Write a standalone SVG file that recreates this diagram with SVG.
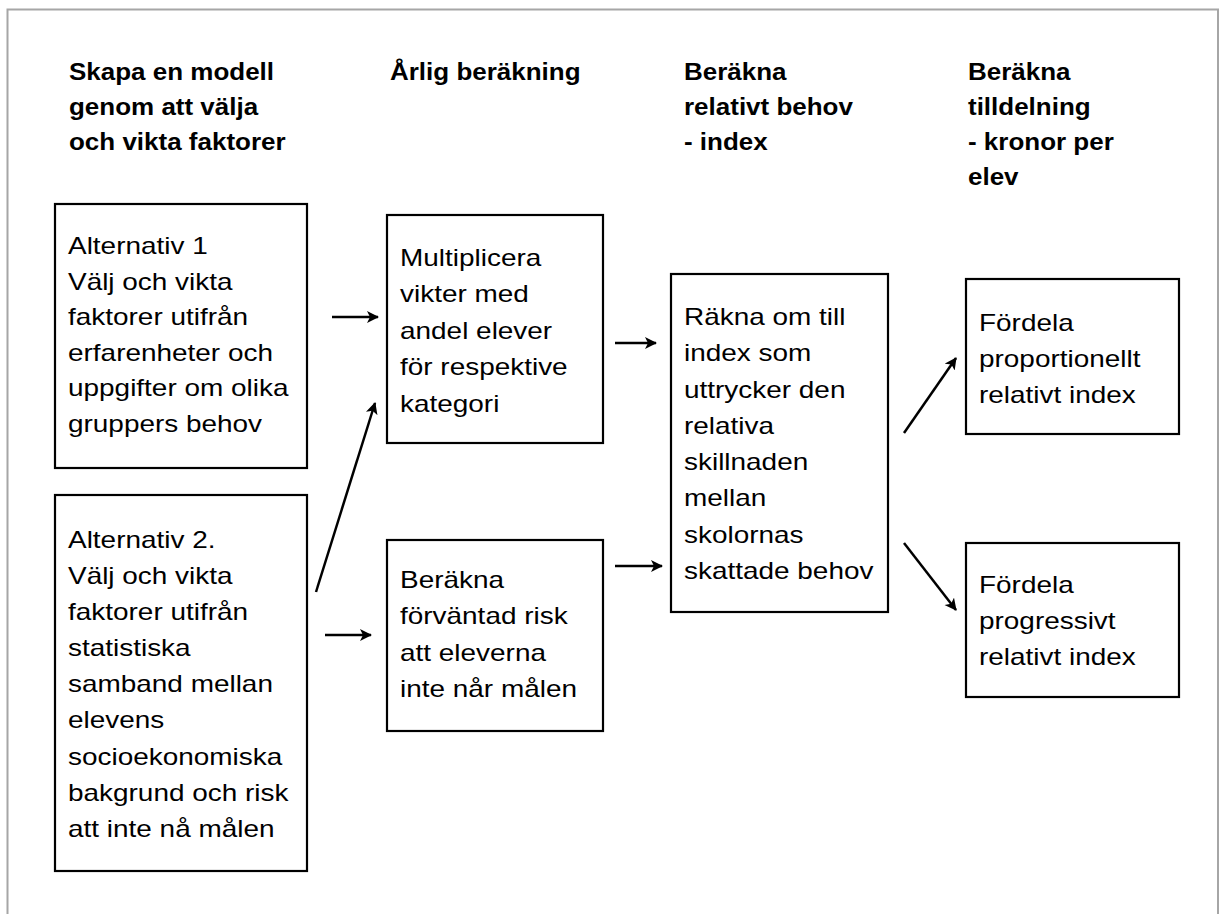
<svg xmlns="http://www.w3.org/2000/svg" width="1225" height="914" viewBox="0 0 1225 914">
<style>
  .box{fill:#fff;stroke:#000;stroke-width:2.2}
  .t{font-family:"Liberation Sans",Arial,sans-serif;font-size:23px;fill:#000}
  .h{font-family:"Liberation Sans",Arial,sans-serif;font-size:23px;font-weight:bold;fill:#000}
  .c{stroke:#000;stroke-width:2.5;fill:none;marker-end:url(#ah)}
</style>
<defs>
  <marker id="ah" markerUnits="userSpaceOnUse" markerWidth="14" markerHeight="14" refX="11" refY="6" orient="auto">
    <path d="M0,0 L12,6 L0,12 L3,6 Z" fill="#000"/>
  </marker>
</defs>
<rect x="0" y="0" width="1225" height="914" fill="#fff"/>
<path d="M7.5,914 V9.5 H1218 V914" fill="none" stroke="#a6a6a6" stroke-width="2"/>

<g id="headings">
  <text class="h" transform="matrix(1.13 0 0 1 69 80)"><tspan x="0" y="0">Skapa en modell</tspan><tspan x="0" y="35">genom att välja</tspan><tspan x="0" y="70">och vikta faktorer</tspan></text>
  <text class="h" transform="matrix(1.13 0 0 1 390 80)"><tspan x="0" y="0">Årlig beräkning</tspan></text>
  <text class="h" transform="matrix(1.13 0 0 1 684 80)"><tspan x="0" y="0">Beräkna</tspan><tspan x="0" y="35">relativt behov</tspan><tspan x="0" y="70">- index</tspan></text>
  <text class="h" transform="matrix(1.13 0 0 1 968 80)"><tspan x="0" y="0">Beräkna</tspan><tspan x="0" y="35">tilldelning</tspan><tspan x="0" y="70">- kronor per</tspan><tspan x="0" y="105">elev</tspan></text>
</g>

<g id="alt1">
  <rect class="box" x="55" y="204" width="252" height="264"/>
  <text class="t" transform="matrix(1.215 0 0 1 68 254)"><tspan x="0" y="0">Alternativ 1</tspan><tspan x="0" y="35.6">Välj och vikta</tspan><tspan x="0" y="71.2">faktorer utifrån</tspan><tspan x="0" y="106.8">erfarenheter och</tspan><tspan x="0" y="142.4">uppgifter om olika</tspan><tspan x="0" y="178">gruppers behov</tspan></text>
</g>

<g id="alt2">
  <rect class="box" x="55" y="495" width="252" height="376"/>
  <text class="t" transform="matrix(1.215 0 0 1 68 548)"><tspan x="0" y="0">Alternativ 2.</tspan><tspan x="0" y="36.1">Välj och vikta</tspan><tspan x="0" y="72.2">faktorer utifrån</tspan><tspan x="0" y="108.3">statistiska</tspan><tspan x="0" y="144.4">samband mellan</tspan><tspan x="0" y="180.5">elevens</tspan><tspan x="0" y="216.6">socioekonomiska</tspan><tspan x="0" y="252.7">bakgrund och risk</tspan><tspan x="0" y="288.8">att inte nå målen</tspan></text>
</g>

<g id="multiplicera">
  <rect class="box" x="387" y="215" width="216" height="228"/>
  <text class="t" transform="matrix(1.215 0 0 1 400 266)"><tspan x="0" y="0">Multiplicera</tspan><tspan x="0" y="36.4">vikter med</tspan><tspan x="0" y="72.8">andel elever</tspan><tspan x="0" y="109.2">för respektive</tspan><tspan x="0" y="145.6">kategori</tspan></text>
</g>

<g id="berakna-risk">
  <rect class="box" x="387" y="540" width="216" height="191"/>
  <text class="t" transform="matrix(1.215 0 0 1 400 588)"><tspan x="0" y="0">Beräkna</tspan><tspan x="0" y="36.5">förväntad risk</tspan><tspan x="0" y="73">att eleverna</tspan><tspan x="0" y="109.5">inte når målen</tspan></text>
</g>

<g id="rakna-index">
  <rect class="box" x="671" y="274" width="217" height="338"/>
  <text class="t" transform="matrix(1.215 0 0 1 684 325)"><tspan x="0" y="0">Räkna om till</tspan><tspan x="0" y="36.3">index som</tspan><tspan x="0" y="72.6">uttrycker den</tspan><tspan x="0" y="108.9">relativa</tspan><tspan x="0" y="145.2">skillnaden</tspan><tspan x="0" y="181.5">mellan</tspan><tspan x="0" y="217.8">skolornas</tspan><tspan x="0" y="254.1">skattade behov</tspan></text>
</g>

<g id="fordela-prop">
  <rect class="box" x="966" y="279" width="213" height="155"/>
  <text class="t" transform="matrix(1.215 0 0 1 979 331)"><tspan x="0" y="0">Fördela</tspan><tspan x="0" y="35.8">proportionellt</tspan><tspan x="0" y="71.6">relativt index</tspan></text>
</g>

<g id="fordela-prog">
  <rect class="box" x="966" y="543" width="213" height="154"/>
  <text class="t" transform="matrix(1.215 0 0 1 979 593)"><tspan x="0" y="0">Fördela</tspan><tspan x="0" y="35.8">progressivt</tspan><tspan x="0" y="71.6">relativt index</tspan></text>
</g>

<g id="connectors">
  <line class="c" x1="332" y1="317" x2="378" y2="317"/>
  <line class="c" x1="316" y1="592" x2="375" y2="403"/>
  <line class="c" x1="325" y1="635" x2="371" y2="635"/>
  <line class="c" x1="615" y1="343" x2="656" y2="343"/>
  <line class="c" x1="615" y1="566" x2="662" y2="566"/>
  <line class="c" x1="904" y1="433" x2="956" y2="358"/>
  <line class="c" x1="904" y1="543" x2="956" y2="610"/>
</g>
</svg>
